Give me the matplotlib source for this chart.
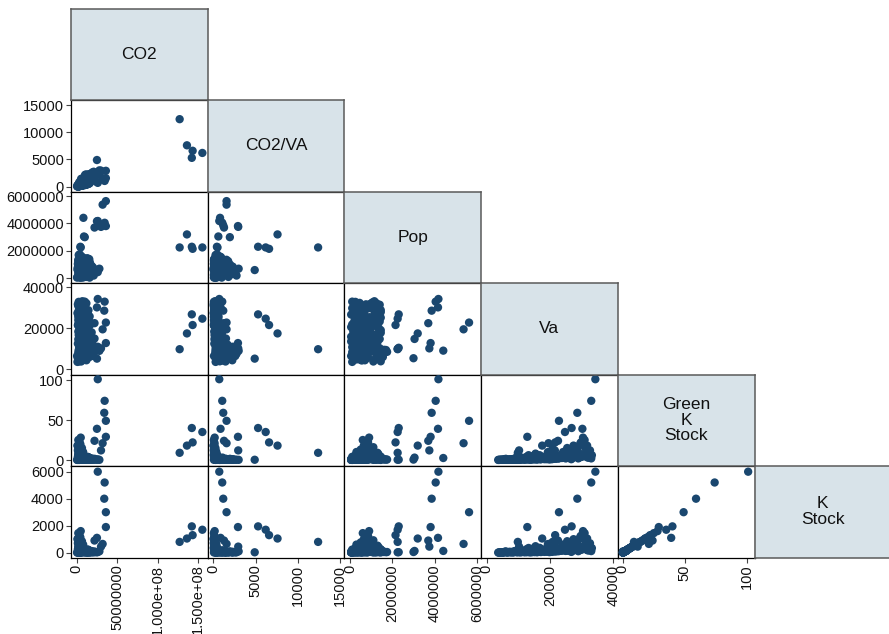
import matplotlib
matplotlib.use('Agg')
import matplotlib.pyplot as plt

plt.rcParams['font.family'] = ['Liberation Sans', 'DejaVu Sans']

# ---------------- data (one entry per observation) ----------------
var_labels = ['CO2', 'CO2/VA', 'Pop', 'Va', 'Green\nK\nStock', 'K\nStock']

co2 = [
    # dense cluster
    1.0e6, 4.5e6, 7.5e6, 1.05e7, 1.5e7, 3.0e6,
    5.0e5, 3.5e6, 6.0e6, 1.25e7, 1.7e7, 2.1e7,
    2.5e6, 8.0e6, 1.2e7, 1.45e7, 1.75e7, 4.0e6,
    1.5e6, 6.5e6, 1.1e7, 1.55e7, 1.35e7, 5.0e6,
    3.0e6, 9.0e6, 1.25e7, 1.6e7, 4.5e6, 1.65e7,
    2.0e6, 7.0e6, 1.15e7, 1.45e7, 3.5e6, 1.3e7,
    1.5e6, 8.5e6, 5.5e6, 1.2e7, 1.5e7, 1.05e7,
    4.0e6, 6.5e6, 2.5e6, 1.3e7, 7.5e6, 1.6e7,
    1.0e6, 6.0e6, 1.05e7, 1.35e7, 3.5e6, 1.45e7,
    5.0e6, 8.0e6, 1.2e7, 2.0e6, 1.0e7, 4.0e6,
    4.5e6, 3.0e6, 6.0e6, 2.0e6,
    4.5e6, 3.8e6, 3.0e6, 5.0e6, 5.5e6,
    2.5e6, 7.0e6, 1.5e6, 5.5e6, 9.5e6, 1.2e7,
    2.0e6, 1.0e7, 4.5e6, 1.3e7, 8.0e6, 1.5e7,
    6.0e6, 3.0e6, 9.0e6, 5.0e6, 1.4e7, 1.6e7,
    3.5e6, 8.5e6, 2.0e6, 1.15e7, 1.3e7, 1.7e7,
    5.5e6, 2.5e6, 1.0e7, 6.5e6, 1.4e7, 1.55e7,
    9.5e6, 5.0e6, 2.5e6, 8.5e6, 4.0e6, 1.6e7,
    3.0e6, 1.1e7, 5.0e6, 2.0e6, 1.35e7, 6.0e6,
    5.5e6, 2.0e6, 8.0e6, 4.5e6, 1.15e7, 1.45e7,
    6.5e6, 2.5e6, 9.5e6, 3.5e6, 4.5e6, 1.25e7,
    5.5e6, 1.5e6, 7.0e6, 3.0e6, 2.5e6, 1.05e7,
    2.3e7, 2.0e7, 1.9e7, 2.2e7, 2.6e7, 1.85e7,
    # tail
    2.6e7, 3.45e7, 3.4e7, 3.6e7, 3.6e7, 2.5e7, 2.2e7, 3.0e7, 8.3e6, 3.2e7, 9.0e6, 1.0e7,
    2.5e7, 2.8e7,
    # large emitters
    1.27e8, 1.36e8, 1.42e8, 1.43e8, 1.55e8,
]

co2va = [
    280, 1050, 1450, 2200, 2300, 770,
    80, 490, 750, 1840, 1980, 2750,
    270, 780, 1090, 1480, 1510, 370,
    120, 490, 790, 1050, 1050, 370,
    195, 550, 730, 1000, 250, 980,
    110, 360, 570, 770, 170, 660,
    70, 380, 240, 550, 630, 460,
    165, 255, 95, 520, 280, 620,
    40, 210, 360, 480, 120, 500,
    165, 255, 370, 65, 300, 120,
    150, 100, 230, 85,
    430, 450, 320, 500, 900,
    490, 1500, 270, 1450, 1560, 2250,
    240, 1280, 510, 1760, 870, 1790,
    530, 280, 760, 490, 1150, 1370,
    245, 610, 140, 860, 860, 1200,
    320, 150, 560, 400, 770, 910,
    470, 255, 120, 445, 195, 750,
    130, 490, 205, 90, 570, 245,
    210, 80, 295, 180, 430, 580,
    220, 90, 315, 125, 150, 430,
    170, 50, 210, 95, 75, 330,
    2400, 1700, 2600, 1500, 2300, 1050,
    710, 1060, 1180, 1570, 2920, 860, 1270, 2950, 800, 1570, 600, 1960,
    4900, 3000,
    12400, 7600, 5300, 6600, 6200,
]

pop = [
    1.0e5, 5.5e5, 1.2e6, 3.0e5, 8.5e5, 1.45e6,
    5.0e4, 7.0e5, 1.6e6, 4.0e5, 1.0e6, 2.0e5,
    1.7e6, 3.0e5, 9.0e5, 1.3e6, 5.5e5, 1.0e5,
    6.0e5, 1.15e6, 2.5e5, 1.4e6, 8.5e5, 5.0e4,
    8.0e5, 3.5e5, 1.25e6, 5.0e4, 1.45e6, 6.0e5,
    1.5e5, 9.5e5, 1.35e6, 5.0e5, 7.5e5, 2.5e5,
    1.05e6, 4.0e5, 1.4e6, 1.0e5, 7.0e5, 1.2e6,
    3.0e5, 9.0e5, 1.3e6, 5.5e5, 5.0e4, 1.1e6,
    6.5e5, 1.15e6, 2.0e5, 1.45e6, 8.5e5, 4.5e5,
    9.0e5, 3.0e5, 1.25e6, 6.0e5, 1.0e5, 1.05e6,
    7.5e5, 1.1e6, 5.0e5, 1.35e6,
    2.3e6, 1.75e6, 1.62e6, 2.25e6, 1.55e6,
    2.0e5, 5.0e5, 8.0e5, 1.1e6, 1.35e6, 7.0e5,
    3.5e5, 6.5e5, 9.5e5, 1.25e6, 1.5e6, 1.0e5,
    2.0e5, 7.0e5, 1.05e6, 1.4e6, 4.5e5, 1.2e6,
    4.0e5, 7.5e5, 1.0e6, 1.3e6, 1.5e5, 5.5e5,
    2.0e5, 5.0e5, 9.5e5, 1.15e6, 1.4e6, 8.0e5,
    3.0e5, 6.0e5, 1.1e6, 1.45e6, 5.0e4, 8.5e5,
    2.0e5, 5.5e5, 8.5e5, 1.25e6, 1.05e6, 4.0e5,
    1.5e5, 7.0e5, 1.2e6, 1.45e6, 4.5e5, 9.5e5,
    3.5e5, 6.0e5, 1.0e6, 1.3e6, 1.0e5, 1.45e6,
    4.5e5, 7.5e5, 1.15e6, 1.4e6, 2.5e5, 9.5e5,
    5.5e5, 8.0e5, 3.5e5, 6.5e5, 4.5e5, 9.0e5,
    4.18e6, 4.05e6, 3.86e6, 5.63e6, 3.81e6, 4.16e6, 3.7e6, 3.75e6, 4.41e6, 5.37e6, 3.05e6, 3.0e6,
    6.0e5, 7.0e5,
    2.25e6, 3.2e6, 2.3e6, 2.15e6, 2.25e6,
]

va = [
    3600, 4300, 5200, 4800, 5800, 3900,
    6500, 7200, 8000, 6800, 8600, 7600,
    9400, 10200, 11000, 9800, 11600, 10800,
    12500, 13200, 14000, 14800, 12800, 13600,
    15400, 16300, 17200, 15900, 17800, 16800,
    18400, 19300, 20200, 18900, 20800, 19800,
    21500, 22400, 23300, 21900, 23800, 22800,
    24500, 25400, 26200, 24900, 26700, 25800,
    27400, 28300, 29200, 27900, 29700, 28800,
    30400, 31300, 32200, 30900, 33000, 32600,
    29500, 31000, 26500, 24000,
    10500, 8500, 9500, 10000, 6000,
    5100, 4600, 5500, 3800, 6100, 4400,
    8200, 7800, 8900, 7400, 9200, 8400,
    11300, 10600, 11900, 10300, 12200, 11700,
    14300, 13900, 14600, 13400, 15100, 14200,
    17400, 16700, 17900, 16400, 18200, 17100,
    20400, 19600, 21100, 19100, 20600, 21300,
    23500, 22600, 24100, 22100, 23700, 24300,
    26400, 25600, 27000, 25200, 26900, 25100,
    29300, 28600, 30000, 28100, 29800, 28900,
    32400, 31700, 33200, 31500, 32900, 31900,
    9500, 12000, 6500, 15000, 11000, 18000,
    34300, 33000, 28600, 22800, 12800, 30200, 22500, 10200, 9100, 19500, 14800, 5400,
    5200, 9000,
    9800, 17500, 26800, 21600, 24700,
]

green_k = [
    0.1, 0.3, 0.5, 0.2, 0.8, 0.1,
    0.2, 1.0, 0.6, 0.4, 1.5, 0.3,
    0.5, 2.0, 3.0, 1.2, 0.8, 0.4,
    4.0, 6.0, 1.0, 2.0, 0.5, 0.3,
    8.0, 3.0, 1.5, 0.4, 4.0, 1.0,
    2.0, 10.0, 4.0, 1.0, 14.0, 0.6,
    12.0, 5.0, 3.0, 1.5, 3.0, 2.0,
    7.0, 15.0, 5.0, 2.0, 1.0, 2.5,
    18.0, 8.0, 3.0, 4.0, 22.0, 3.5,
    28.0, 10.0, 3.0, 25.0, 2.0, 12.0,
    20.0, 16.0, 13.0, 7.0,
    0.4, 0.6, 1.0, 0.3, 1.5,
    0.2, 0.4, 0.3, 0.2, 0.6, 0.3,
    0.5, 0.8, 1.0, 0.4, 1.2, 0.3,
    1.5, 2.5, 1.0, 0.8, 0.5, 0.6,
    2.5, 3.5, 5.0, 1.0, 0.6, 0.4,
    2.0, 6.0, 2.5, 3.5, 1.0, 0.8,
    2.0, 7.0, 9.0, 2.0, 1.0, 1.5,
    3.0, 2.0, 10.0, 6.0, 2.5, 5.0,
    3.0, 12.0, 6.0, 3.0, 2.0, 2.5,
    8.0, 14.0, 4.0, 9.0, 4.0, 2.0,
    8.0, 18.0, 6.0, 4.0, 6.0, 3.0,
    0.5, 1.0, 0.3, 1.5, 0.8, 2.0,
    101, 74, 59, 49, 29, 39, 24, 12, 2.5, 21, 3, 0.5,
    0.3, 0.2,
    9, 18, 40, 22, 35,
]

k_stock = [
    10, 30, 40, 20, 60, 15,
    15, 70, 50, 40, 100, 30,
    40, 130, 180, 90, 60, 30,
    250, 350, 70, 120, 40, 20,
    480, 190, 100, 30, 240, 60,
    130, 620, 230, 70, 800, 40,
    700, 300, 180, 90, 170, 120,
    420, 850, 300, 130, 60, 150,
    1000, 460, 180, 240, 1250, 200,
    1600, 600, 180, 1450, 120, 700,
    1150, 920, 760, 400,
    40, 50, 70, 30, 100,
    15, 25, 20, 10, 40, 20,
    35, 50, 60, 30, 80, 20,
    100, 150, 70, 50, 30, 40,
    160, 210, 300, 60, 40, 30,
    120, 360, 150, 210, 60, 50,
    120, 420, 540, 110, 60, 90,
    180, 120, 600, 340, 150, 290,
    170, 700, 350, 180, 110, 140,
    460, 800, 230, 520, 230, 110,
    470, 1050, 340, 230, 350, 170,
    40, 60, 20, 90, 50, 120,
    6000, 5200, 4000, 3000, 1900, 1100, 900, 450, 130, 650, 130, 50,
    30, 100,
    800, 1050, 1950, 1300, 1700,
]

# axis ticks and their labels
tick_values = [
    [0, 5e7, 1e8, 1.5e8],
    [0, 5000, 10000, 15000],
    [0, 2e6, 4e6, 6e6],
    [0, 20000, 40000],
    [0, 50, 100],
    [0, 2000, 4000, 6000],
]
tick_labels = [
    ['0', '50000000', '1.000e+08', '1.500e+08'],
    ['0', '5000', '10000', '15000'],
    ['0', '2000000', '4000000', '6000000'],
    ['0', '20000', '40000'],
    ['0', '50', '100'],
    ['0', '2000', '4000', '6000'],
]

# ---------------- layout ----------------
W, H = 889, 634
x_lims = [(-7.0e6, 1.616e8), (-660, 15510), (-0.27e6, 6.2e6), (-1800, 41390), (-4.0, 106.1), None]
y_lims = [None, (-880, 15920), (-0.343e6, 6.33e6), (-2540, 42100), (-7.5, 106.9), (-356, 6422)]

data = [co2, co2va, pop, va, green_k, k_stock]
n = len(data)
cell_w, cell_h = 136.7, 91.5
x0, y0 = 71.0, 8.5

navy = '#1a476f'
box_fill = '#d8e3e9'

fig = plt.figure(figsize=(W / 100, H / 100), dpi=100)
fig.patch.set_facecolor('white')

def add_cell(col, row):
    left = x0 + col * cell_w
    top = y0 + row * cell_h
    return fig.add_axes([left / W, 1 - (top + cell_h) / H, cell_w / W, cell_h / H])

for row in range(n):
    for col in range(row + 1):
        ax = add_cell(col, row)
        if col == row:
            ax.set_facecolor(box_fill)
            ax.set_xticks([])
            ax.set_yticks([])
            for s in ax.spines.values():
                s.set_color('#5a5a5a')
                s.set_linewidth(1.1)
            ax.text(0.5, 0.5, var_labels[row], ha='center', va='center',
                    fontsize=12.5, color='#111111', linespacing=1.05,
                    transform=ax.transAxes)
            ax.set_zorder(2)
            continue
        ax.scatter(data[col], data[row], s=36, color=navy, edgecolors='none',
                   zorder=3, clip_on=True)
        ax.set_xlim(*x_lims[col])
        ax.set_ylim(*y_lims[row])
        for s in ax.spines.values():
            s.set_color('black')
            s.set_linewidth(0.9)
        ax.tick_params(length=3.6, width=0.8, color='#444444', labelsize=10.5,
                       labelcolor='#111111', pad=1.5)
        if col == 0:
            ax.set_yticks(tick_values[row])
            ax.set_yticklabels(tick_labels[row])
        else:
            ax.set_yticks([])
        if row == n - 1:
            ax.set_xticks(tick_values[col])
            ax.set_xticklabels(tick_labels[col], rotation=90)
        else:
            ax.set_xticks([])

fig.savefig('out.png', dpi=100, facecolor='white')
